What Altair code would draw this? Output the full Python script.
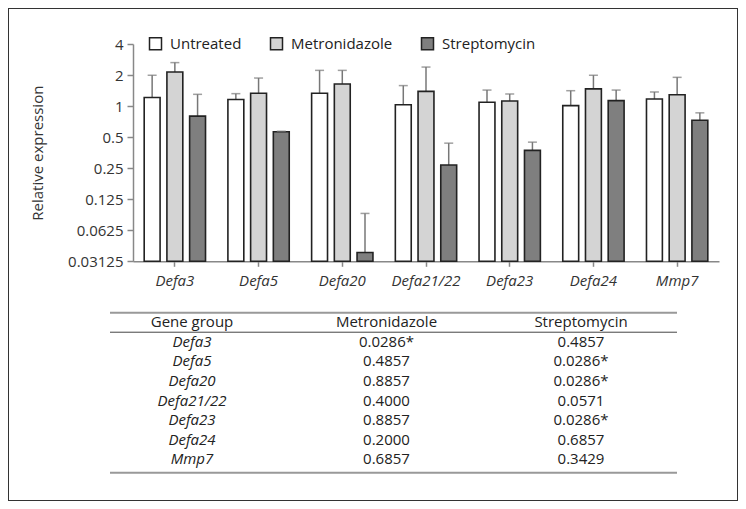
import altair as alt
import pandas as pd

# ---------------- data ----------------
genes = ["Defa3", "Defa5", "Defa20", "Defa21/22", "Defa23", "Defa24", "Mmp7"]
treatments = ["Untreated", "Metronidazole", "Streptomycin"]
colors = ["#ffffff", "#d4d4d4", "#7f7f7f"]

untreated = [1.21, 1.16, 1.33, 1.03, 1.09, 1.01, 1.17]
untreated_upper = [1.99, 1.32, 2.22, 1.58, 1.43, 1.41, 1.37]
metro = [2.14, 1.33, 1.64, 1.39, 1.12, 1.47, 1.29]
metro_upper = [2.64, 1.87, 2.22, 2.39, 1.31, 1.99, 1.90]
strep = [0.80, 0.564, 0.038, 0.268, 0.372, 1.13, 0.73]
strep_upper = [1.30, 0.57, 0.091, 0.437, 0.447, 1.43, 0.86]

y_ticks = [0.03125, 0.0625, 0.125, 0.25, 0.5, 1, 2, 4]

table_columns = ["Gene group", "Metronidazole", "Streptomycin"]
metro_p = ["0.0286*", "0.4857", "0.8857", "0.4000", "0.8857", "0.2000", "0.6857"]
strep_p = ["0.4857", "0.0286*", "0.0286*", "0.0571", "0.0286*", "0.6857", "0.3429"]

# ---------------- tables for the library ----------------
rows = []
for i, g in enumerate(genes):
    for t, vals, ups in zip(treatments, [untreated, metro, strep],
                            [untreated_upper, metro_upper, strep_upper]):
        rows.append({"gene": g, "treatment": t, "value": vals[i], "upper": ups[i]})
df = pd.DataFrame(rows)

header_df = pd.DataFrame({"col": table_columns, "row": [0, 0, 0], "text": table_columns})
gene_df = pd.DataFrame({"col": ["Gene group"] * len(genes),
                        "row": list(range(1, len(genes) + 1)), "text": genes})
val_df = pd.DataFrame({
    "col": ["Metronidazole"] * len(genes) + ["Streptomycin"] * len(genes),
    "row": list(range(1, len(genes) + 1)) * 2,
    "text": metro_p + strep_p,
})
outer_lines = pd.DataFrame({"pos": [-0.5, len(genes) + 0.7]})
header_line = pd.DataFrame({"pos": [0.5]})

W, H = 730, 493
X0, X1 = 125, 711
YB, YT = 253.3, 36

x_scale = alt.Scale(domain=genes, range=[X0, X1], paddingInner=0.186, paddingOuter=0.093)
xo_scale = alt.Scale(domain=treatments, paddingInner=0.3, paddingOuter=0.15)
y_scale = alt.Scale(type="log", base=2, domain=[0.03125, 4], range=[YB, YT], nice=False)

x_axis = alt.Axis(title=None, offset=YB - H, labelFontStyle="italic", labelFontSize=15,
                  labelAngle=0, tickSize=5, labelPadding=7, domainColor="#888",
                  tickColor="#888", domainWidth=1.5, tickWidth=1.5, labelColor="#333")
y_axis = alt.Axis(values=y_ticks, format="~g", title="Relative expression", offset=-X0,
                  tickSize=6, labelFontSize=15, titleFontSize=15, titleFontWeight="normal",
                  titleColor="#333", labelColor="#333", domainColor="#888", tickColor="#888",
                  domainWidth=1.5, tickWidth=1.5, titleX=-96, titleY=(YB + YT) / 2,
                  titleBaseline="middle", grid=False, labelPadding=4)

X = alt.X("gene:N", scale=x_scale, axis=x_axis, title=None)
XO = alt.XOffset("treatment:N", scale=xo_scale)

errs = alt.Chart(df).mark_rule(color="#777", strokeWidth=1.5).encode(
    x=X, xOffset=XO,
    y=alt.Y("value:Q", scale=y_scale, axis=y_axis, title="Relative expression"),
    y2="upper:Q",
)
caps = alt.Chart(df).mark_tick(color="#777", thickness=1.5, size=9).encode(
    x=X, xOffset=XO,
    y=alt.Y("upper:Q", scale=y_scale, axis=y_axis, title="Relative expression"),
)
bars = alt.Chart(df).mark_bar(stroke="#222", strokeWidth=1.6).encode(
    x=X, xOffset=XO,
    y=alt.Y("value:Q", scale=y_scale, axis=y_axis, title="Relative expression"),
    y2=alt.datum(0.03125),
    fill=alt.Fill("treatment:N", scale=alt.Scale(domain=treatments, range=colors),
                  legend=alt.Legend(title=None, orient="none", legendX=140, legendY=28,
                                    direction="horizontal", symbolType="square",
                                    symbolSize=144, symbolStrokeColor="#222",
                                    symbolStrokeWidth=1.5, labelFontSize=15,
                                    labelOffset=7, columnPadding=25, padding=0,
                                    labelColor="#222")),
)
bar_layer = alt.layer(errs, bars, caps)

# ---------------- table ----------------
ty = alt.Scale(domain=[-0.5, len(genes) + 0.7], range=[304.7, 464.7])
tx_pt = alt.Scale(type="point", domain=table_columns, range=[184, 573], padding=0)
tx_lin = alt.Scale(domain=[0, 1], range=[102, 669])

line_outer = alt.Chart(outer_lines).mark_rule(color="#999", strokeWidth=2).encode(
    x=alt.XDatum(0, type="quantitative", scale=tx_lin, axis=None),
    x2=alt.datum(1),
    y=alt.Y("pos:Q", scale=ty, axis=None),
)
line_head = alt.Chart(header_line).mark_rule(color="#444", strokeWidth=1).encode(
    x=alt.XDatum(0, type="quantitative", scale=tx_lin, axis=None),
    x2=alt.datum(1),
    y=alt.Y("pos:Q", scale=ty, axis=None),
)
txt_header = alt.Chart(header_df).mark_text(fontSize=15, color="#222", baseline="middle").encode(
    x=alt.X("col:N", scale=tx_pt, axis=None),
    y=alt.Y("row:Q", scale=ty, axis=None),
    text="text:N",
)
txt_gene = alt.Chart(gene_df).mark_text(fontSize=15, color="#222", baseline="middle",
                                        fontStyle="italic").encode(
    x=alt.X("col:N", scale=tx_pt, axis=None),
    y=alt.Y("row:Q", scale=ty, axis=None),
    text="text:N",
)
txt_val = alt.Chart(val_df).mark_text(fontSize=15, color="#222", baseline="middle").encode(
    x=alt.X("col:N", scale=tx_pt, axis=None),
    y=alt.Y("row:Q", scale=ty, axis=None),
    text="text:N",
)
table_layer = alt.layer(line_outer, line_head, txt_header, txt_gene, txt_val).resolve_scale(
    x="independent")

chart = alt.layer(bar_layer, table_layer).resolve_scale(
    x="independent", y="independent"
).properties(
    width=W, height=H, autosize=alt.AutoSizeParams(type="none"), padding=0
).configure(font="Open Sans").configure_view(
    stroke="#333", strokeWidth=2
).configure_axis(grid=False)

chart.save("out.html", embed_options={"renderer": "svg", "actions": False})
